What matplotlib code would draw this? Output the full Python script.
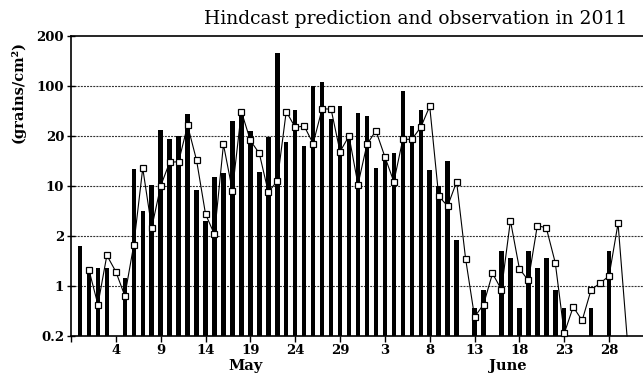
import numpy as np
import matplotlib
matplotlib.use("Agg")
import matplotlib.pyplot as plt

# y axis levels are equally spaced on the chart
y_ticks = [0.2, 1, 2, 10, 20, 100, 200]

# observed pollen counts, 2011-04-30 .. 2011-06-29 (0 = no bar)
obs = [1.74,
       1.25, 1.28, 1.28, 0, 1.12, 12.7, 4.47, 10.1, 24.3, 19.2,
       20.3, 40, 8.9, 3.24, 11.4, 11.9, 32.4, 39, 23.5, 12.1,
       19.8, 159, 18.3, 46, 17.4, 100, 105, 35, 52, 19.5, 41.7,
       38, 12.8, 15.5, 15.8, 85, 27.6, 45.5, 12.5, 10, 14.1,
       1.88, 0, 0.5, 0.88, 0, 1.62, 1.47, 0.5, 1.62, 1.28,
       1.47, 0.88, 0.5, 0, 0, 0.5, 0, 1.62, 0]

# hindcast prediction, 2011-05-01 .. 2011-06-30
pred = [1.25, 0.55, 1.53, 1.22, 0.73, 1.77, 12.8, 2.61, 10, 13.9,
        14.0, 28.1, 14.3, 4.06, 2.1, 17.8, 8.6, 44, 18.8, 15.7,
        8.2, 10.7, 44, 26.4, 27.6, 18.0, 48, 47.5, 16.1, 20, 10.2,
        17.8, 23.7, 15, 10.6, 19.1, 19.1, 26.4, 52, 7.2, 5.25,
        10.6, 1.46, 0.37, 0.55, 1.19, 0.89, 3.29, 1.27, 1.08, 2.8,
        2.6, 1.38, 0.217, 0.51, 0.33, 0.89, 1.04, 1.15, 3.0, 0.2]

tick_labels = ['', '4', '9', '14', '19', '24', '29', '3', '8', '13', '18', '23', '28']

start = np.datetime64('2011-04-29')
obs_days = (np.arange(np.datetime64('2011-04-30'), np.datetime64('2011-06-30')) - start).astype(int)
pred_days = (np.arange(np.datetime64('2011-05-01'), np.datetime64('2011-07-01')) - start).astype(int)

logv = np.log10(y_ticks)
idx = np.arange(len(y_ticks))


def fwd(v):
    v = np.asarray(v, dtype=float)
    with np.errstate(divide='ignore', invalid='ignore'):
        lv = np.log10(np.where(v > 0, v, 1e-9))
    return np.interp(lv, logv, idx)


def inv(l):
    return 10 ** np.interp(l, idx, logv)


fig = plt.figure(figsize=(6.43, 3.78), dpi=100)
ax = fig.add_axes([71 / 643, 1 - 336 / 378, 1 - 71 / 643 + 0.01, 300 / 378])
ax.set_yscale('function', functions=(fwd, inv))

obs = np.array(obs)
m = obs > 0
ax.bar(obs_days[m], obs[m] - 0.2, bottom=0.2, width=0.5, color='black', zorder=2)

ax.plot(pred_days, pred, color='black', lw=0.8, marker='s', ms=4.3,
        mfc='white', mec='black', mew=0.9, markevery=list(range(len(pred) - 1)),
        zorder=3, clip_on=False)

for v in y_ticks[1:-1]:
    ax.axhline(v, color='#333333', lw=0.8, ls=(0, (1.8, 1.0)), zorder=1)

ax.set_ylim(0.2, 200)
ax.set_xlim(0, 64.5)
ax.set_yticks(y_ticks)
ax.set_yticklabels(['0.2', '1', '2', '10', '20', '100', '200'])
ax.set_xticks(np.arange(0, 61, 5))
ax.set_xticklabels(tick_labels)
ax.minorticks_off()

ax.spines['right'].set_visible(False)
for s in ['left', 'bottom', 'top']:
    ax.spines[s].set_linewidth(1.2)

tick_font = dict(family='DejaVu Serif', weight='bold', size=9.5)
ax.tick_params(axis='y', direction='inout', length=6, width=1, pad=2)
ax.tick_params(axis='x', direction='out', length=4, width=1, pad=2)
for lab in ax.get_xticklabels() + ax.get_yticklabels():
    lab.set_fontproperties(matplotlib.font_manager.FontProperties(**tick_font))

fig.text(245 / 643, 1 - 366 / 378, 'May', ha='center', va='center',
         fontfamily='DejaVu Serif', fontweight='bold', fontsize=10.5)
fig.text(508 / 643, 1 - 366 / 378, 'June', ha='center', va='center',
         fontfamily='DejaVu Serif', fontweight='bold', fontsize=10.5)

fig.text(18 / 643, 1 - 92 / 378, '(grains/cm²)', rotation=90, ha='center', va='center',
         fontfamily='DejaVu Serif', fontweight='bold', fontsize=10.5)
fig.text(416 / 643, 1 - 19 / 378, 'Hindcast prediction and observation in 2011',
         ha='center', va='center', fontfamily='DejaVu Serif', fontsize=13.5)

fig.savefig('out.png', dpi=100)
